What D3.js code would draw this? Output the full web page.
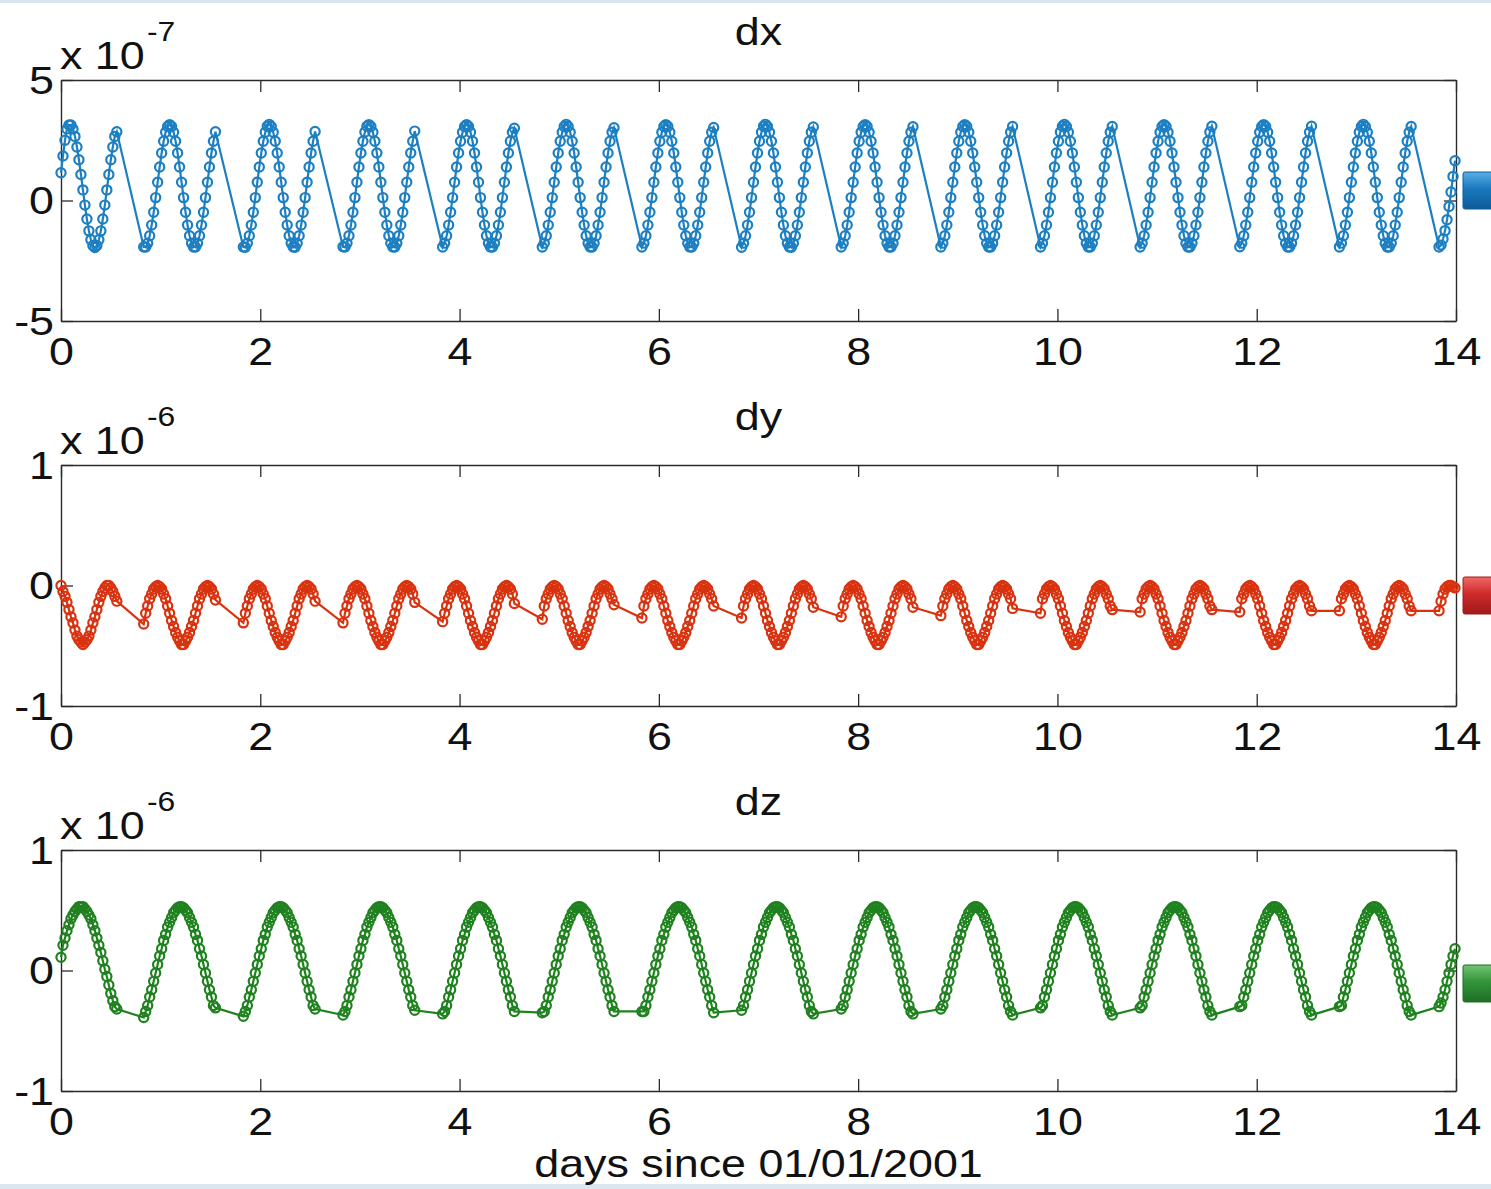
<!DOCTYPE html>
<html>
<head>
<meta charset="utf-8">
<script src="https://cdn.jsdelivr.net/npm/d3@7"></script>
<style>
  body { margin: 0; background: #fff; }
  svg text { font-family: "Liberation Sans", Arial, Helvetica, sans-serif; fill: #111; }
</style>
</head>
<body>
<div class="canvas"></div>
<script>
// three panels of daily runs, sampled every 0.02 day, gap of ~0.28 day between runs.
// values are in units of the axis multiplier (1e-7 for dx, 1e-6 for dy / dz)

const xTicks = [0, 2, 4, 6, 8, 10, 12, 14];
const step = 0.02; // days between samples inside a run
const runStart = [0, 0.83, 1.83, 2.83, 3.83, 4.83, 5.83, 6.83, 7.83, 8.83, 9.83, 10.83, 11.83, 12.83, 13.83];

const names = ['dx', 'dy', 'dz'];
const exponents = ['-7', '-6', '-6'];
const yTicks = [[-5, 0, 5], [-1, 0, 1], [-1, 0, 1]];
const colors = ['#1c7fc2', '#d9320f', '#1f821f'];
const xLabel = 'days since 01/01/2001';

const dxRuns = [
  [1.15,1.85,2.5,2.97,3.13,3.13,2.97,2.66,2.22,1.69,1.08,0.44,-0.19,-0.77,-1.26,-1.63,-1.87,-1.95,-1.87,-1.63,-1.26,-0.77,-0.19,0.44,1.08,1.69,2.22,2.66,2.85],
  [-1.93,-1.93,-1.77,-1.46,-1.02,-0.49,0.12,0.76,1.39,1.97,2.46,2.83,3.07,3.15,3.07,2.83,2.46,1.97,1.39,0.76,0.12,-0.49,-1.02,-1.46,-1.77,-1.93,-1.93,-1.77,-1.46,-1.02,-0.49,0.12,0.76,1.39,1.97,2.46,2.85],
  [-1.93,-1.94,-1.77,-1.46,-1.02,-0.49,0.12,0.76,1.39,1.97,2.46,2.83,3.08,3.16,3.07,2.83,2.46,1.97,1.39,0.76,0.12,-0.49,-1.02,-1.46,-1.77,-1.93,-1.94,-1.77,-1.46,-1.02,-0.49,0.12,0.76,1.39,1.97,2.46,2.86],
  [-1.92,-1.93,-1.77,-1.46,-1.02,-0.49,0.12,0.76,1.39,1.97,2.46,2.84,3.08,3.15,3.07,2.83,2.46,1.97,1.39,0.76,0.12,-0.49,-1.02,-1.46,-1.77,-1.93,-1.93,-1.77,-1.46,-1.02,-0.49,0.12,0.76,1.39,1.97,2.46,2.88],
  [-1.93,-1.77,-1.46,-1.02,-0.49,0.12,0.76,1.39,1.97,2.46,2.83,3.07,3.15,3.07,2.83,2.46,1.97,1.39,0.76,0.12,-0.49,-1.02,-1.46,-1.77,-1.93,-1.93,-1.77,-1.46,-1.02,-0.49,0.12,0.76,1.39,1.97,2.46,2.83,3.0],
  [-1.93,-1.77,-1.46,-1.02,-0.49,0.12,0.76,1.39,1.97,2.46,2.83,3.07,3.16,3.07,2.83,2.46,1.97,1.39,0.76,0.12,-0.49,-1.02,-1.46,-1.77,-1.93,-1.93,-1.77,-1.46,-1.02,-0.49,0.12,0.76,1.39,1.97,2.46,2.83,3.02],
  [-1.93,-1.77,-1.46,-1.02,-0.49,0.12,0.76,1.39,1.97,2.46,2.83,3.07,3.15,3.07,2.83,2.46,1.97,1.39,0.76,0.12,-0.49,-1.02,-1.46,-1.77,-1.93,-1.93,-1.77,-1.46,-1.02,-0.49,0.12,0.76,1.39,1.97,2.46,2.83,3.03],
  [-1.94,-1.77,-1.46,-1.02,-0.49,0.12,0.76,1.39,1.97,2.46,2.83,3.08,3.16,3.07,2.83,2.46,1.97,1.39,0.76,0.12,-0.49,-1.02,-1.46,-1.77,-1.93,-1.94,-1.77,-1.46,-1.02,-0.49,0.12,0.76,1.39,1.97,2.46,2.83,3.05],
  [-1.93,-1.77,-1.46,-1.02,-0.49,0.12,0.76,1.39,1.97,2.46,2.83,3.07,3.15,3.07,2.83,2.46,1.97,1.39,0.76,0.12,-0.49,-1.02,-1.46,-1.77,-1.93,-1.93,-1.77,-1.46,-1.02,-0.49,0.12,0.76,1.39,1.97,2.46,2.83,3.06],
  [-1.93,-1.77,-1.46,-1.02,-0.49,0.12,0.76,1.39,1.97,2.46,2.83,3.07,3.15,3.07,2.83,2.46,1.97,1.39,0.76,0.12,-0.49,-1.02,-1.46,-1.77,-1.93,-1.93,-1.77,-1.46,-1.02,-0.49,0.12,0.76,1.39,1.97,2.46,2.83,3.07],
  [-1.93,-1.77,-1.46,-1.02,-0.49,0.12,0.76,1.39,1.97,2.46,2.84,3.08,3.16,3.07,2.83,2.46,1.97,1.39,0.76,0.12,-0.49,-1.02,-1.46,-1.77,-1.93,-1.93,-1.77,-1.46,-1.02,-0.49,0.12,0.76,1.39,1.97,2.46,2.83,3.07],
  [-1.93,-1.77,-1.46,-1.02,-0.49,0.12,0.76,1.39,1.97,2.46,2.83,3.07,3.15,3.07,2.83,2.46,1.97,1.39,0.76,0.12,-0.49,-1.02,-1.46,-1.77,-1.93,-1.93,-1.77,-1.46,-1.02,-0.49,0.12,0.76,1.39,1.97,2.46,2.84,3.08],
  [-1.92,-1.77,-1.46,-1.02,-0.49,0.12,0.76,1.39,1.97,2.46,2.83,3.07,3.15,3.07,2.83,2.46,1.97,1.39,0.76,0.12,-0.49,-1.02,-1.46,-1.77,-1.93,-1.93,-1.77,-1.46,-1.02,-0.49,0.12,0.76,1.39,1.97,2.46,2.83,3.08],
  [-1.93,-1.77,-1.46,-1.02,-0.49,0.12,0.76,1.39,1.97,2.46,2.83,3.07,3.16,3.07,2.83,2.46,1.97,1.39,0.76,0.12,-0.49,-1.02,-1.46,-1.77,-1.93,-1.93,-1.77,-1.46,-1.02,-0.49,0.12,0.76,1.39,1.97,2.46,2.83,3.07],
  [-1.93,-1.85,-1.6,-1.25,-0.8,-0.25,0.35,1.0,1.65]
];

const dyRuns = [
  [0.0,-0.05,-0.09,-0.14,-0.2,-0.26,-0.31,-0.37,-0.42,-0.45,-0.47,-0.49,-0.47,-0.45,-0.42,-0.37,-0.31,-0.26,-0.2,-0.14,-0.09,-0.05,-0.02,0.0,0.0,-0.02,-0.05,-0.09,-0.13],
  [-0.32,-0.23,-0.17,-0.11,-0.07,-0.03,-0.01,0,-0.01,-0.03,-0.07,-0.11,-0.17,-0.23,-0.29,-0.34,-0.39,-0.43,-0.46,-0.49,-0.49,-0.46,-0.43,-0.39,-0.34,-0.29,-0.23,-0.17,-0.11,-0.07,-0.03,-0.01,0,-0.01,-0.03,-0.07,-0.12],
  [-0.31,-0.23,-0.17,-0.11,-0.07,-0.03,-0.01,0,-0.01,-0.03,-0.07,-0.11,-0.17,-0.23,-0.29,-0.34,-0.39,-0.43,-0.46,-0.49,-0.49,-0.46,-0.43,-0.39,-0.34,-0.29,-0.23,-0.17,-0.11,-0.07,-0.03,-0.01,0,-0.01,-0.03,-0.07,-0.13],
  [-0.31,-0.23,-0.17,-0.11,-0.07,-0.03,-0.01,0,-0.01,-0.03,-0.07,-0.11,-0.17,-0.23,-0.29,-0.34,-0.39,-0.43,-0.46,-0.49,-0.49,-0.46,-0.43,-0.39,-0.34,-0.29,-0.23,-0.17,-0.11,-0.07,-0.03,-0.01,0,-0.01,-0.03,-0.07,-0.14],
  [-0.30,-0.23,-0.17,-0.11,-0.07,-0.03,-0.01,0,-0.01,-0.03,-0.07,-0.11,-0.17,-0.23,-0.29,-0.34,-0.39,-0.43,-0.46,-0.49,-0.49,-0.46,-0.43,-0.39,-0.34,-0.29,-0.23,-0.17,-0.11,-0.07,-0.03,-0.01,0,-0.01,-0.03,-0.07,-0.15],
  [-0.28,-0.17,-0.11,-0.07,-0.03,-0.01,0,-0.01,-0.03,-0.07,-0.11,-0.17,-0.23,-0.29,-0.34,-0.39,-0.43,-0.46,-0.49,-0.49,-0.46,-0.43,-0.39,-0.34,-0.29,-0.23,-0.17,-0.11,-0.07,-0.03,-0.01,0,-0.01,-0.03,-0.07,-0.11,-0.16],
  [-0.27,-0.17,-0.11,-0.07,-0.03,-0.01,0,-0.01,-0.03,-0.07,-0.11,-0.17,-0.23,-0.29,-0.34,-0.39,-0.43,-0.46,-0.49,-0.49,-0.46,-0.43,-0.39,-0.34,-0.29,-0.23,-0.17,-0.11,-0.07,-0.03,-0.01,0,-0.01,-0.03,-0.07,-0.11,-0.17],
  [-0.27,-0.17,-0.11,-0.07,-0.03,-0.01,0,-0.01,-0.03,-0.07,-0.11,-0.17,-0.23,-0.29,-0.34,-0.39,-0.43,-0.46,-0.49,-0.49,-0.46,-0.43,-0.39,-0.34,-0.29,-0.23,-0.17,-0.11,-0.07,-0.03,-0.01,0,-0.01,-0.03,-0.07,-0.11,-0.18],
  [-0.26,-0.17,-0.11,-0.07,-0.03,-0.01,0,-0.01,-0.03,-0.07,-0.11,-0.17,-0.23,-0.29,-0.34,-0.39,-0.43,-0.46,-0.49,-0.49,-0.46,-0.43,-0.39,-0.34,-0.29,-0.23,-0.17,-0.11,-0.07,-0.03,-0.01,0,-0.01,-0.03,-0.07,-0.11,-0.18],
  [-0.25,-0.17,-0.11,-0.07,-0.03,-0.01,0,-0.01,-0.03,-0.07,-0.11,-0.17,-0.23,-0.29,-0.34,-0.39,-0.43,-0.46,-0.49,-0.49,-0.46,-0.43,-0.39,-0.34,-0.29,-0.23,-0.17,-0.11,-0.07,-0.03,-0.01,0,-0.01,-0.03,-0.07,-0.11,-0.19],
  [-0.23,-0.11,-0.07,-0.03,-0.01,0,-0.01,-0.03,-0.07,-0.11,-0.17,-0.23,-0.29,-0.34,-0.39,-0.43,-0.46,-0.49,-0.49,-0.46,-0.43,-0.39,-0.34,-0.29,-0.23,-0.17,-0.11,-0.07,-0.03,-0.01,0,-0.01,-0.03,-0.07,-0.11,-0.17,-0.2],
  [-0.22,-0.11,-0.07,-0.03,-0.01,0,-0.01,-0.03,-0.07,-0.11,-0.17,-0.23,-0.29,-0.34,-0.39,-0.43,-0.46,-0.49,-0.49,-0.46,-0.43,-0.39,-0.34,-0.29,-0.23,-0.17,-0.11,-0.07,-0.03,-0.01,0,-0.01,-0.03,-0.07,-0.11,-0.17,-0.2],
  [-0.22,-0.11,-0.07,-0.03,-0.01,0,-0.01,-0.03,-0.07,-0.11,-0.17,-0.23,-0.29,-0.34,-0.39,-0.43,-0.46,-0.49,-0.49,-0.46,-0.43,-0.39,-0.34,-0.29,-0.23,-0.17,-0.11,-0.07,-0.03,-0.01,0,-0.01,-0.03,-0.07,-0.11,-0.17,-0.21],
  [-0.21,-0.11,-0.07,-0.03,-0.01,0,-0.01,-0.03,-0.07,-0.11,-0.17,-0.23,-0.29,-0.34,-0.39,-0.43,-0.46,-0.49,-0.49,-0.46,-0.43,-0.39,-0.34,-0.29,-0.23,-0.17,-0.11,-0.07,-0.03,-0.01,0,-0.01,-0.03,-0.07,-0.11,-0.17,-0.21],
  [-0.21,-0.13,-0.07,-0.03,-0.01,0,0,-0.01,-0.02]
];

const dzRuns = [
  [0.11,0.21,0.27,0.33,0.38,0.43,0.46,0.49,0.51,0.53,0.53,0.53,0.51,0.49,0.46,0.43,0.38,0.33,0.27,0.21,0.15,0.08,0.01,-0.05,-0.12,-0.19,-0.25,-0.3,-0.32],
  [-0.39,-0.34,-0.29,-0.22,-0.16,-0.09,-0.02,0.05,0.12,0.18,0.25,0.30,0.36,0.40,0.44,0.48,0.50,0.52,0.53,0.53,0.52,0.50,0.48,0.44,0.40,0.36,0.30,0.25,0.18,0.12,0.05,-0.02,-0.09,-0.16,-0.22,-0.29,-0.31],
  [-0.38,-0.34,-0.29,-0.22,-0.16,-0.09,-0.02,0.05,0.12,0.18,0.25,0.30,0.36,0.40,0.44,0.48,0.50,0.52,0.53,0.53,0.52,0.50,0.48,0.44,0.40,0.36,0.30,0.25,0.18,0.12,0.05,-0.02,-0.09,-0.16,-0.22,-0.29,-0.32],
  [-0.37,-0.34,-0.29,-0.22,-0.16,-0.09,-0.02,0.05,0.12,0.18,0.25,0.30,0.36,0.40,0.44,0.48,0.50,0.52,0.53,0.53,0.52,0.50,0.48,0.44,0.40,0.36,0.30,0.25,0.18,0.12,0.05,-0.02,-0.09,-0.16,-0.22,-0.29,-0.33],
  [-0.36,-0.34,-0.29,-0.22,-0.16,-0.09,-0.02,0.05,0.12,0.18,0.25,0.30,0.36,0.40,0.44,0.48,0.50,0.52,0.53,0.53,0.52,0.50,0.48,0.44,0.40,0.36,0.30,0.25,0.18,0.12,0.05,-0.02,-0.09,-0.16,-0.22,-0.29,-0.34],
  [-0.35,-0.34,-0.29,-0.22,-0.16,-0.09,-0.02,0.05,0.12,0.18,0.25,0.30,0.36,0.40,0.44,0.48,0.50,0.52,0.53,0.53,0.52,0.50,0.48,0.44,0.40,0.36,0.30,0.25,0.18,0.12,0.05,-0.02,-0.09,-0.16,-0.22,-0.29,-0.34],
  [-0.34,-0.34,-0.29,-0.22,-0.16,-0.09,-0.02,0.05,0.12,0.18,0.25,0.30,0.36,0.40,0.44,0.48,0.50,0.52,0.53,0.53,0.52,0.50,0.48,0.44,0.40,0.36,0.30,0.25,0.18,0.12,0.05,-0.02,-0.09,-0.16,-0.22,-0.29,-0.35],
  [-0.33,-0.29,-0.22,-0.16,-0.09,-0.02,0.05,0.12,0.18,0.25,0.30,0.36,0.40,0.44,0.48,0.50,0.52,0.53,0.53,0.52,0.50,0.48,0.44,0.40,0.36,0.30,0.25,0.18,0.12,0.05,-0.02,-0.09,-0.16,-0.22,-0.29,-0.34,-0.36],
  [-0.32,-0.29,-0.22,-0.16,-0.09,-0.02,0.05,0.12,0.18,0.25,0.30,0.36,0.40,0.44,0.48,0.50,0.52,0.53,0.53,0.52,0.50,0.48,0.44,0.40,0.36,0.30,0.25,0.18,0.12,0.05,-0.02,-0.09,-0.16,-0.22,-0.29,-0.34,-0.36],
  [-0.32,-0.29,-0.22,-0.16,-0.09,-0.02,0.05,0.12,0.18,0.25,0.30,0.36,0.40,0.44,0.48,0.50,0.52,0.53,0.53,0.52,0.50,0.48,0.44,0.40,0.36,0.30,0.25,0.18,0.12,0.05,-0.02,-0.09,-0.16,-0.22,-0.29,-0.34,-0.37],
  [-0.31,-0.29,-0.22,-0.16,-0.09,-0.02,0.05,0.12,0.18,0.25,0.30,0.36,0.40,0.44,0.48,0.50,0.52,0.53,0.53,0.52,0.50,0.48,0.44,0.40,0.36,0.30,0.25,0.18,0.12,0.05,-0.02,-0.09,-0.16,-0.22,-0.29,-0.34,-0.37],
  [-0.31,-0.29,-0.22,-0.16,-0.09,-0.02,0.05,0.12,0.18,0.25,0.30,0.36,0.40,0.44,0.48,0.50,0.52,0.53,0.53,0.52,0.50,0.48,0.44,0.40,0.36,0.30,0.25,0.18,0.12,0.05,-0.02,-0.09,-0.16,-0.22,-0.29,-0.34,-0.37],
  [-0.30,-0.29,-0.22,-0.16,-0.09,-0.02,0.05,0.12,0.18,0.25,0.30,0.36,0.40,0.44,0.48,0.50,0.52,0.53,0.53,0.52,0.50,0.48,0.44,0.40,0.36,0.30,0.25,0.18,0.12,0.05,-0.02,-0.09,-0.16,-0.22,-0.29,-0.34,-0.37],
  [-0.30,-0.29,-0.22,-0.16,-0.09,-0.02,0.05,0.12,0.18,0.25,0.30,0.36,0.40,0.44,0.48,0.50,0.52,0.53,0.53,0.52,0.50,0.48,0.44,0.40,0.36,0.30,0.25,0.18,0.12,0.05,-0.02,-0.09,-0.16,-0.22,-0.29,-0.34,-0.37],
  [-0.30,-0.27,-0.22,-0.16,-0.09,-0.02,0.05,0.12,0.18]
];

const allRuns = [dxRuns, dyRuns, dzRuns];

// layout
const dims = { width: 1491, height: 1189 };
const plot = { left: 61, right: 1456, h: 241 };
const panelTop = [80, 465, 850];
const swatchTop = [172, 577, 965];
const stretch = 1.18; // the original figure was stretched sideways, text too
const fontSize = 38;

const svg = d3.select('.canvas')
    .append('svg')
    .attr('width', dims.width)
    .attr('height', dims.height);

// pale window frame strips top and bottom
svg.append('rect').attr('x', 0).attr('y', 0).attr('width', dims.width).attr('height', 3).attr('fill', '#d9e5ee');
svg.append('rect').attr('x', 0).attr('y', 1184).attr('width', dims.width).attr('height', 5).attr('fill', '#dce6ee');

const x = d3.scaleLinear().domain([0, 14]).range([plot.left, plot.right]);

// gradients for the little 3d swatches on the right edge
const swatchShades = [
    ['#5aaee6', '#1a78bf', '#0d5c99'],
    ['#ee6a66', '#cf2a2a', '#a01a1a'],
    ['#72c472', '#33953a', '#1f6e25']
];
const defs = svg.append('defs');
swatchShades.forEach((s, i) => {
    const grad = defs.append('linearGradient')
        .attr('id', `sw${i}`)
        .attr('x1', 0).attr('y1', 0).attr('x2', 0).attr('y2', 1);
    grad.append('stop').attr('offset', '0%').attr('stop-color', s[0]);
    grad.append('stop').attr('offset', '45%').attr('stop-color', s[1]);
    grad.append('stop').attr('offset', '100%').attr('stop-color', s[2]);
});

const styleAxis = (sel) => {
    sel.select('.domain').attr('stroke', '#2a2a2a').attr('stroke-width', 1.4);
    sel.selectAll('.tick line').attr('stroke', '#2a2a2a').attr('stroke-width', 1.3);
};

const plain = d => String(d); // matlab style: "-1" not "−1.0"

names.forEach((name, i) => {
    const g = svg.append('g').attr('transform', `translate(0, ${panelTop[i]})`);
    const ticks = yTicks[i];
    const y = d3.scaleLinear().domain([ticks[0], ticks[2]]).range([plot.h, 0]);

    // flatten the runs into (day, value) points
    const pts = allRuns[i].flatMap((run, r) =>
        run.map((v, k) => ({ t: runStart[r] + k * step, v: v })));

    // box + inward ticks on all four sides
    const bottom = g.append('g')
        .attr('transform', `translate(0, ${plot.h})`)
        .call(d3.axisBottom(x).tickValues(xTicks).tickSize(-12).tickSizeOuter(0).tickFormat(plain));
    bottom.selectAll('text')
        .attr('y', null).attr('dy', null)
        .attr('font-size', fontSize)
        .attr('transform', `translate(0, 44) scale(${stretch}, 1)`);
    styleAxis(bottom);

    const top = g.append('g')
        .call(d3.axisTop(x).tickValues(xTicks).tickSize(-12).tickSizeOuter(0).tickFormat(''));
    styleAxis(top);

    const left = g.append('g')
        .attr('transform', `translate(${plot.left}, 0)`)
        .call(d3.axisLeft(y).tickValues(ticks).tickSize(-12).tickSizeOuter(0).tickFormat(plain));
    left.selectAll('text')
        .attr('x', null).attr('dy', null)
        .attr('font-size', fontSize)
        .attr('text-anchor', 'end')
        .attr('transform', `translate(-7, 13) scale(${stretch}, 1)`);
    styleAxis(left);

    const right = g.append('g')
        .attr('transform', `translate(${plot.right}, 0)`)
        .call(d3.axisRight(y).tickValues(ticks).tickSize(-12).tickSizeOuter(0).tickFormat(''));
    styleAxis(right);

    // title and the "x 10^n" multiplier
    g.append('text')
        .attr('text-anchor', 'middle')
        .attr('font-size', fontSize)
        .attr('transform', `translate(${(plot.left + plot.right) / 2}, -35) scale(${stretch}, 1)`)
        .text(name);
    g.append('text')
        .attr('font-size', fontSize)
        .attr('transform', `translate(60, -11) scale(${stretch}, 1)`)
        .text('x 10');
    g.append('text')
        .attr('font-size', 27)
        .attr('transform', `translate(147, -39) scale(${stretch}, 1)`)
        .text(exponents[i]);

    // line through all samples (gaps get bridged by a straight segment)
    const line = d3.line().x(d => x(d.t)).y(d => y(d.v));
    g.append('path')
        .datum(pts)
        .attr('d', line)
        .attr('fill', 'none')
        .attr('stroke', colors[i])
        .attr('stroke-width', 2.2);

    g.selectAll('circle.pt')
        .data(pts)
        .join('circle')
        .attr('class', 'pt')
        .attr('cx', d => x(d.t))
        .attr('cy', d => y(d.v))
        .attr('r', 4.6)
        .attr('fill', 'none')
        .attr('stroke', colors[i])
        .attr('stroke-width', 2.2);

    // swatch poking in from the right edge
    svg.append('rect')
        .attr('x', 1463).attr('y', swatchTop[i])
        .attr('width', 40).attr('height', 37)
        .attr('rx', 2)
        .attr('fill', `url(#sw${i})`)
        .attr('stroke', swatchShades[i][2])
        .attr('stroke-width', 1);
});

svg.append('text')
    .attr('text-anchor', 'middle')
    .attr('font-size', fontSize)
    .attr('transform', `translate(${(plot.left + plot.right) / 2}, 1177) scale(${stretch}, 1)`)
    .text(xLabel);
</script>
</body>
</html>
